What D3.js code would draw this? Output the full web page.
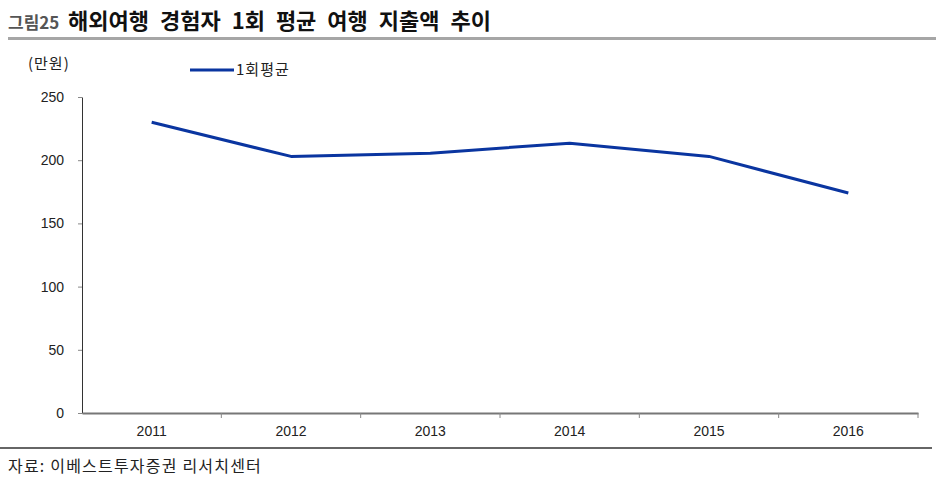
<!DOCTYPE html>
<html><head><meta charset="utf-8">
<script src="https://cdn.jsdelivr.net/npm/d3@7"></script>
<style>body{margin:0;background:#fff}svg{display:block}</style>
</head><body>
<script>
const categories = ["2011","2012","2013","2014","2015","2016"];
const values = [230, 203, 205.5, 213.5, 203, 174];
const yTicks = [0, 50, 100, 150, 200, 250];
const seriesName = "1회평균";
const titlePrefix = "그림25";
const titleText = "해외여행 경험자 1회 평균 여행 지출액 추이";
const unitText = "(만원)";
const sourceText = "자료: 이베스트투자증권 리서치센터";

const W = 936, H = 481;
const font = "'Liberation Sans','Noto Sans CJK KR',Arial,sans-serif";
const kfont = "'Noto Sans CJK KR',sans-serif";
const svg = d3.select("body").append("svg").attr("width", W).attr("height", H)
  .style("font-family", font);

const m = {left: 82, right: 918, top: 97, bottom: 413};
const x = d3.scaleBand().domain(categories).range([m.left, m.right]);
const y = d3.scaleLinear().domain([0, 250]).range([m.bottom, m.top]);

// Title
svg.append("text").attr("x", 8).attr("y", 29).attr("font-size", 17).attr("font-weight", "bold")
  .attr("fill", "#555").attr("font-family", kfont).text(titlePrefix);
svg.append("text").attr("x", 68).attr("y", 29).attr("font-size", 22).attr("font-weight", "bold")
  .attr("fill", "#111").attr("font-family", kfont).attr("word-spacing", 6).text(titleText);
svg.append("rect").attr("x", 8).attr("y", 37).attr("width", W - 8).attr("height", 3).attr("fill", "#a6a6a6");

// Unit
svg.append("text").attr("x", 28).attr("y", 69).attr("font-size", 15).attr("letter-spacing", 1)
  .attr("fill", "#222").attr("font-family", kfont).text(unitText);

// Legend
svg.append("line").attr("x1", 190).attr("x2", 234).attr("y1", 70).attr("y2", 70)
  .attr("stroke", "#0a35a0").attr("stroke-width", 3);
svg.append("text").attr("x", 236).attr("y", 75).attr("font-size", 15).attr("letter-spacing", 1)
  .attr("fill", "#222").attr("font-family", kfont).text(seriesName);

// Y axis
const ya = svg.append("g").attr("transform", `translate(${m.left},0)`)
  .call(d3.axisLeft(y).tickValues(yTicks).tickSize(4).tickSizeOuter(0).tickPadding(14));
ya.select(".domain").attr("stroke", "#333");
ya.selectAll(".tick line").attr("stroke", "#888");
ya.selectAll("text").attr("font-size", 14).attr("fill", "#222").attr("font-family", font);

// X axis
const xa = svg.append("g").attr("transform", `translate(0,${m.bottom})`)
  .call(d3.axisBottom(x).tickSize(0).tickPadding(13));
xa.select(".domain").attr("stroke", "#777").attr("stroke-width", 2);
xa.selectAll("text").attr("font-size", 14).attr("fill", "#222").attr("font-family", font);
const bounds = categories.map(c => x(c) + x.bandwidth());
xa.selectAll(".bt").data(bounds).enter().append("line").attr("class", "bt")
  .attr("x1", d => d).attr("x2", d => d).attr("y1", 0).attr("y2", 5).attr("stroke", "#888");

// Line
const line = d3.line().x((d, i) => x(categories[i]) + x.bandwidth() / 2).y(d => y(d));
svg.append("path").datum(values).attr("d", line).attr("fill", "none")
  .attr("stroke", "#0a35a0").attr("stroke-width", 3).attr("stroke-linejoin", "round");

// Footer
svg.append("line").attr("x1", 0).attr("x2", 932).attr("y1", 448).attr("y2", 448).attr("stroke", "#333").attr("stroke-width", 1.5);
svg.append("text").attr("x", 8).attr("y", 472).attr("font-size", 16).attr("letter-spacing", 1.2).attr("fill", "#222")
  .attr("font-family", kfont).text(sourceText);
</script>
</body></html>
